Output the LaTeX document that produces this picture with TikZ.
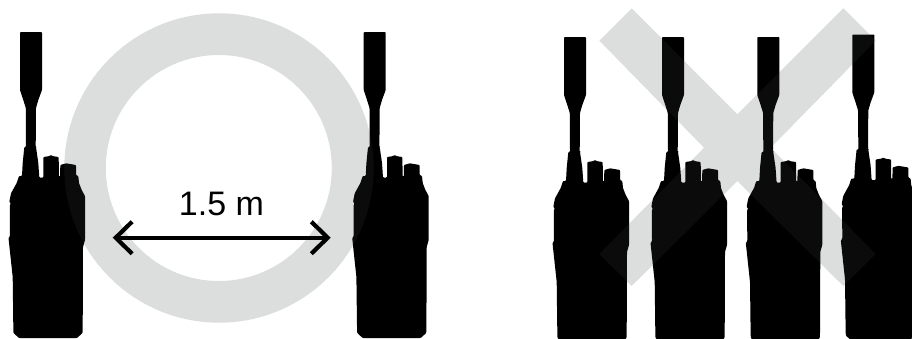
\documentclass[tikz,border=0pt]{standalone}
\usepackage{fontspec}
\setmainfont{Liberation Sans}
\usetikzlibrary{calc}
\definecolor{overlay}{RGB}{57,65,61}
\tikzset{
  px/.style={x=1pt,y=-1pt},
  veil/.style={fill=overlay,fill opacity=0.176,draw=none},
  dimline/.style={line width=4.2pt,miter limit=10},
  radio/.pic={
    \fill[black,rounded corners=0.8pt]
      (20,32) -- (42,32) -- (42,90) -- (38.3,100) -- (36,108) -- (35.7,147) -- (36,147) -- (38.3,163) -- (39.3,177.5) -- (43.3,177.5)
      -- (43.3,157) -- (49,156.2) -- (51,155) -- (53,156.2) -- (58.7,157) -- (58.9,176.5)
      -- (60.1,176.5) -- (60.3,165) -- (66,163.3) -- (76,165) -- (76,175) -- (78.3,176) -- (79,183) -- (81.7,190) -- (85,196)
      -- (85,240) -- (83,247) -- (82.7,328) -- (82.5,333) -- (77,338) -- (19,338) -- (13.5,333) -- (13.3,326) -- (12.7,277)
      -- (8.5,238) -- (10,236) -- (9.8,205) -- (11,203.5) -- (9.3,202) -- (11,193.3) -- (16.7,183) -- (19,176) -- (22,176)
      -- (22.7,163) -- (24.3,147) -- (26,147) -- (25.8,108) -- (23.3,100) -- (20,90) -- cycle;
  }
}
\begin{document}
\begin{tikzpicture}[px]
\useasboundingbox (0,0) rectangle (912,338);
\clip (0,0) rectangle (912,338);
\pic at (0,0) {radio};
\pic at (343.7,0) {radio};
\pic at (544,5) {radio};
\pic at (642,5) {radio};
\pic at (737.3,5) {radio};
\pic at (832.3,2.5) {radio};
\fill[veil,even odd rule] (219,168) circle[radius=154.7] (218.8,168) circle[radius=113];
\fill[veil] (631.7,8.3) -- (737.3,114.3) -- (843.3,8.3) -- (875.7,40.7) -- (770.7,147.7)
  -- (875.7,254) -- (843.3,286) -- (737.3,181) -- (631.7,286) -- (599.3,254) -- (704,147.7)
  -- (599.3,40.7) -- cycle;
\coordinate (arrowL) at (115.7,237.7);
\coordinate (arrowR) at (327.7,237.7);
\draw[dimline] (arrowL) -- (arrowR);
\draw[dimline] ($(arrowL)+(16.4,-16)$) -- (arrowL) -- ($(arrowL)+(16.4,16)$);
\draw[dimline] ($(arrowR)+(-16.4,-16)$) -- (arrowR) -- ($(arrowR)+(-16.4,16)$);
\node[font=\fontsize{34}{34}\selectfont,inner sep=0pt,anchor=base] (dist) at (221.5,215.7) {1.5 m};
\end{tikzpicture}
\end{document}
